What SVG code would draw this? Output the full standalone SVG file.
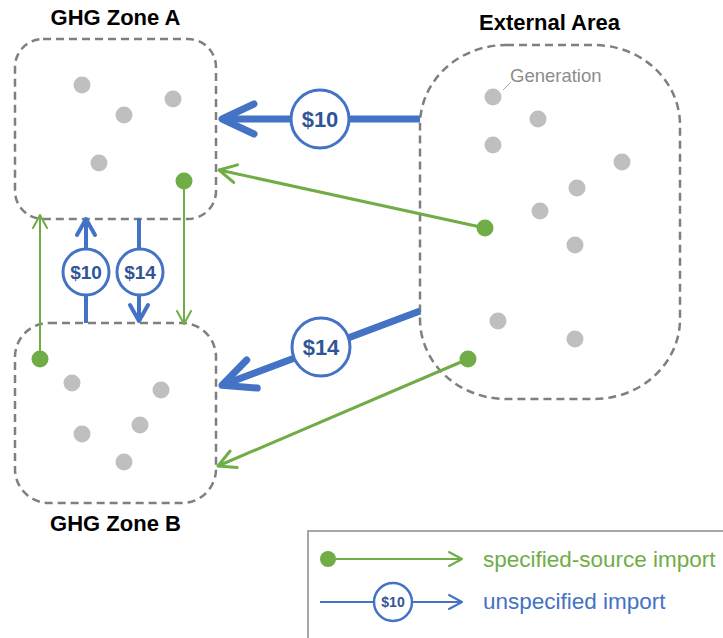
<svg xmlns="http://www.w3.org/2000/svg" width="723" height="638" viewBox="0 0 723 638">
<style>
.zone{fill:none;stroke:#7F7F7F;stroke-width:2.5;stroke-dasharray:8 5}
.gen{fill:#BFBFBF}
.src{fill:#70AD47}
.title{font-family:"Liberation Sans",Arial,sans-serif;font-weight:bold;font-size:22px;fill:#000;text-anchor:middle}
.g{stroke:#70AD47;fill:none}
.b{stroke:#4472C4;fill:none}
.badge{fill:#fff;stroke:#4472C4;stroke-width:3}
.bt{font-family:"Liberation Sans",Arial,sans-serif;font-weight:bold;fill:#2F5597;text-anchor:middle}
.leg{font-family:"Liberation Sans",Arial,sans-serif;font-size:22.5px}
</style>
<defs>
<marker id="ahBL" markerUnits="userSpaceOnUse" viewBox="-40 -20 44 40" markerWidth="44" markerHeight="40" refX="0" refY="0" orient="auto" overflow="visible">
<path d="M-32,-15 L0,0 L-32,15" fill="none" stroke="#4472C4" stroke-width="7" stroke-linecap="round" stroke-linejoin="round"/>
</marker>
<marker id="ahBM" markerUnits="userSpaceOnUse" viewBox="-20 -12 24 24" markerWidth="24" markerHeight="24" refX="0" refY="0" orient="auto" overflow="visible">
<path d="M-16,-9 L0,0 L-16,9" fill="none" stroke="#4472C4" stroke-width="4" stroke-linecap="round" stroke-linejoin="round"/>
</marker>
<marker id="ahGM" markerUnits="userSpaceOnUse" viewBox="-20 -12 24 24" markerWidth="24" markerHeight="24" refX="0" refY="0" orient="auto" overflow="visible">
<path d="M-17,-9 L0,0 L-17,9" fill="none" stroke="#70AD47" stroke-width="3" stroke-linecap="round" stroke-linejoin="round"/>
</marker>
<marker id="ahGS" markerUnits="userSpaceOnUse" viewBox="-16 -10 20 20" markerWidth="20" markerHeight="20" refX="0" refY="0" orient="auto" overflow="visible">
<path d="M-13,-7 L0,0 L-13,7" fill="none" stroke="#70AD47" stroke-width="2" stroke-linecap="round" stroke-linejoin="round"/>
</marker>
<marker id="ahBS" markerUnits="userSpaceOnUse" viewBox="-16 -10 20 20" markerWidth="20" markerHeight="20" refX="0" refY="0" orient="auto" overflow="visible">
<path d="M-13,-7 L0,0 L-13,7" fill="none" stroke="#4472C4" stroke-width="2" stroke-linecap="round" stroke-linejoin="round"/>
</marker>
</defs>
<rect width="723" height="638" fill="#fff"/>

<g id="zoneA">
<rect class="zone" x="15" y="39" width="201" height="180" rx="28" ry="28"/>
<text class="title" x="115.5" y="25">GHG Zone A</text>
<circle class="gen" cx="82" cy="85" r="8.5"/>
<circle class="gen" cx="124" cy="115" r="8.5"/>
<circle class="gen" cx="173" cy="99" r="8.5"/>
<circle class="gen" cx="99" cy="163" r="8.5"/>
<circle class="src" cx="184" cy="181" r="8.5"/>
</g>

<g id="zoneB">
<rect class="zone" x="15" y="323" width="201" height="180" rx="34" ry="34"/>
<text class="title" x="115.5" y="531">GHG Zone B</text>
<circle class="gen" cx="72" cy="383" r="8.5"/>
<circle class="gen" cx="161" cy="390" r="8.5"/>
<circle class="gen" cx="82" cy="434" r="8.5"/>
<circle class="gen" cx="140" cy="425" r="8.5"/>
<circle class="gen" cx="124" cy="462" r="8.5"/>
<circle class="src" cx="40" cy="359" r="8.5"/>
</g>

<g id="externalArea">
<rect class="zone" x="420" y="45" width="260" height="354" rx="86" ry="80"/>
<text class="title" x="549.5" y="30">External Area</text>
<line x1="503" y1="90" x2="511" y2="82" stroke="#A6A6A6" stroke-width="1"/>
<text x="510" y="82" font-family="'Liberation Sans',Arial,sans-serif" font-size="18.5" fill="#8C8C8C">Generation</text>
<circle class="gen" cx="493" cy="97" r="8.5"/>
<circle class="gen" cx="538" cy="119" r="8.5"/>
<circle class="gen" cx="493" cy="145" r="8.5"/>
<circle class="gen" cx="622" cy="162" r="8.5"/>
<circle class="gen" cx="577" cy="188" r="8.5"/>
<circle class="gen" cx="540" cy="211" r="8.5"/>
<circle class="gen" cx="575" cy="245" r="8.5"/>
<circle class="gen" cx="498" cy="321" r="8.5"/>
<circle class="gen" cx="575" cy="339" r="8.5"/>
<circle class="src" cx="485" cy="228" r="8.5"/>
<circle class="src" cx="468" cy="359" r="8.5"/>
</g>

<g id="connectors">
<!-- External -> Zone A, unspecified $10 -->
<line class="b" x1="420" y1="119" x2="222" y2="119" stroke-width="7" marker-end="url(#ahBL)"/>
<circle class="badge" cx="320" cy="119" r="29"/>
<text class="bt" x="320" y="127" font-size="22">$10</text>
<!-- External -> Zone B, unspecified $14 -->
<line class="b" x1="420" y1="311" x2="222" y2="385.3" stroke-width="7" marker-end="url(#ahBL)"/>
<circle class="badge" cx="321" cy="347" r="29"/>
<text class="bt" x="321" y="355" font-size="22">$14</text>
<!-- External -> Zone A, specified source -->
<line class="g" x1="485" y1="228" x2="219" y2="170" stroke-width="3" marker-end="url(#ahGM)"/>
<!-- External -> Zone B, specified source -->
<line class="g" x1="468" y1="359" x2="218" y2="466" stroke-width="3" marker-end="url(#ahGM)"/>
<!-- Zone B -> Zone A specified -->
<line class="g" x1="40" y1="359" x2="40" y2="215" stroke-width="2" marker-end="url(#ahGS)"/>
<!-- Zone A -> Zone B specified -->
<line class="g" x1="184" y1="181" x2="184" y2="324" stroke-width="2" marker-end="url(#ahGS)"/>
<!-- Zone B -> Zone A unspecified $10 -->
<line class="b" x1="86" y1="323" x2="86" y2="219" stroke-width="4" marker-end="url(#ahBM)"/>
<circle class="badge" cx="86" cy="272" r="23"/>
<text class="bt" x="86" y="279" font-size="19">$10</text>
<!-- Zone A -> Zone B unspecified $14 -->
<line class="b" x1="139" y1="218" x2="139" y2="321" stroke-width="4" marker-end="url(#ahBM)"/>
<circle class="badge" cx="140" cy="272" r="23"/>
<text class="bt" x="140" y="279" font-size="19">$14</text>
</g>

<g id="legend">
<rect x="308" y="531" width="430" height="120" fill="#fff" stroke="#A6A6A6" stroke-width="2"/>
<line class="g" x1="328" y1="559" x2="462" y2="559" stroke-width="2" marker-end="url(#ahGS)"/>
<circle class="src" cx="328" cy="559" r="8"/>
<text class="leg" x="483" y="567" fill="#70AD47">specified-source import</text>
<line class="b" x1="320" y1="602" x2="462" y2="602" stroke-width="2" marker-end="url(#ahBS)"/>
<circle cx="393" cy="602" r="19" fill="#fff" stroke="#4472C4" stroke-width="2.5"/>
<text class="bt" x="393" y="607" font-size="14">$10</text>
<text class="leg" x="483" y="609" fill="#4472C4">unspecified import</text>
</g>
</svg>
